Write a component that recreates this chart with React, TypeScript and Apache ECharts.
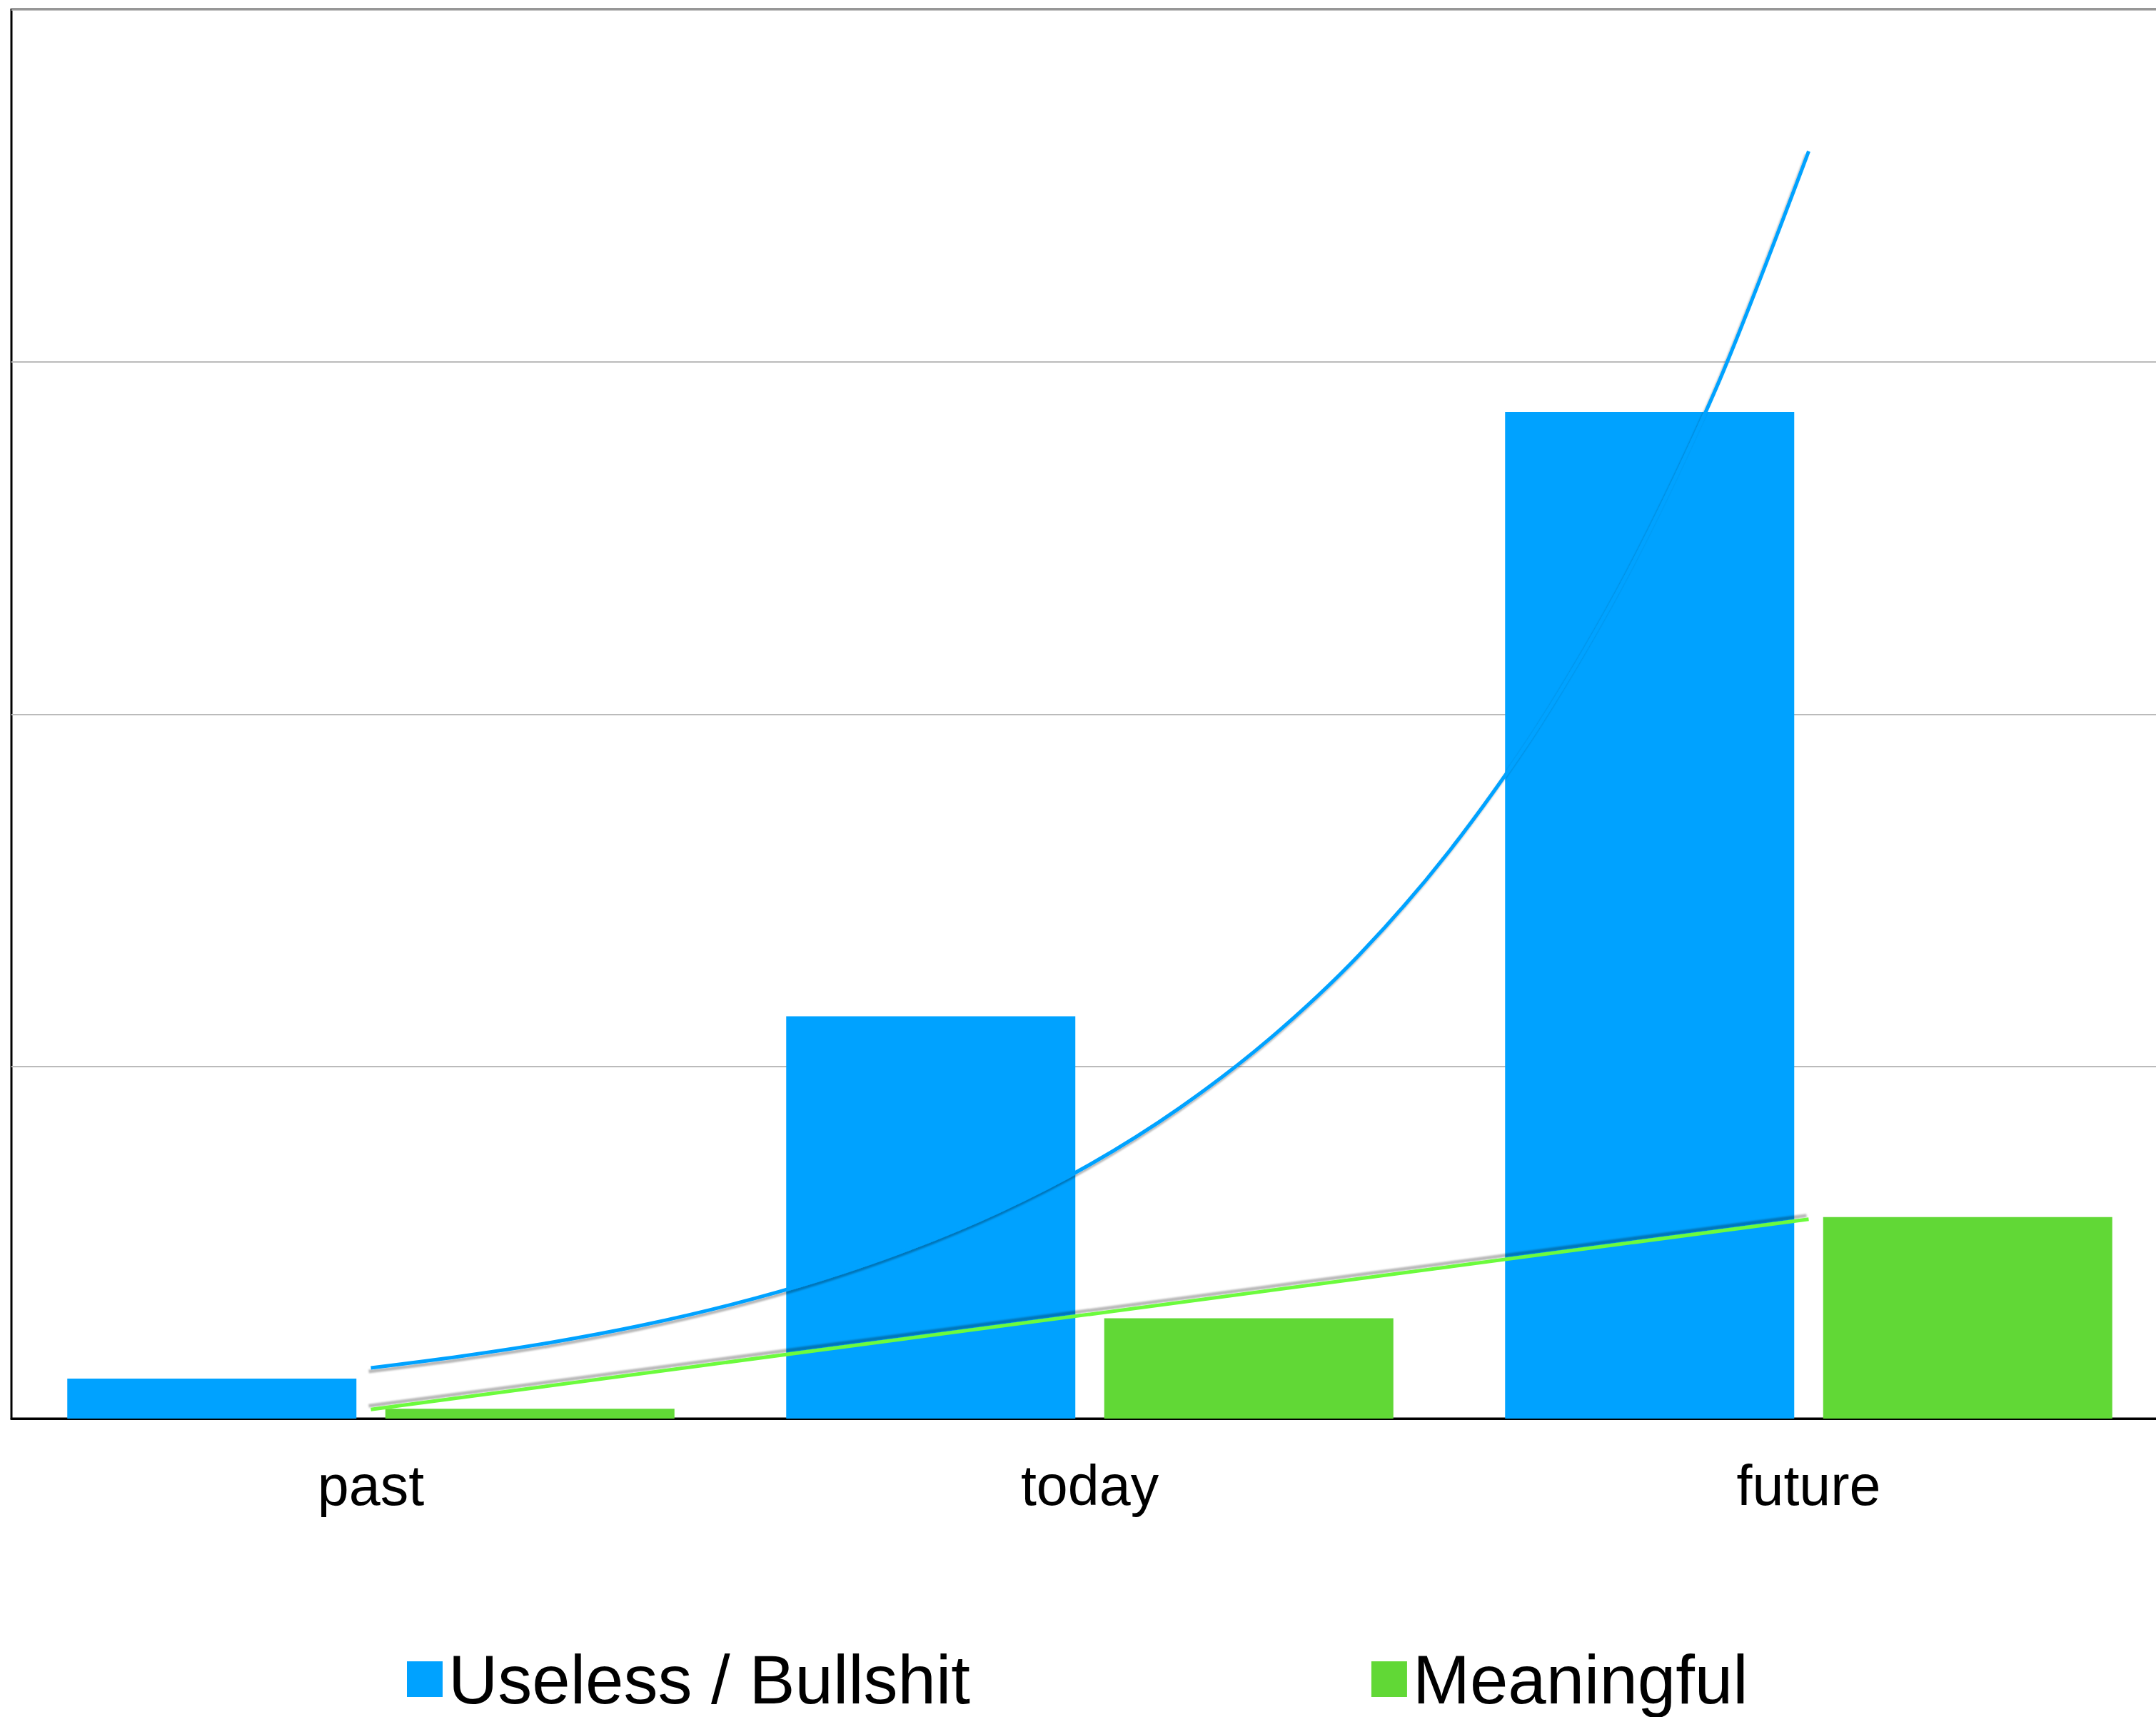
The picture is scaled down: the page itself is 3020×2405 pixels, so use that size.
import React, { useEffect, useRef } from "react";
import * as echarts from "echarts";

const categories = ["past", "today", "future"];
const uselessValues = [0.1135, 1.142, 2.858];
const meaningfulValues = [0.028, 0.285, 0.572];

// trend lines (x in category units, 0 = past, 2 = future)
const blueTrendX = [0, 0.125, 0.25, 0.375, 0.5, 0.625, 0.75, 0.875, 1, 1.125, 1.25, 1.375, 1.5, 1.625, 1.75, 1.875, 2];
const blueTrendY = [0.144, 0.177, 0.216, 0.264, 0.323, 0.395, 0.483, 0.59, 0.721, 0.882, 1.078, 1.317, 1.611, 1.969, 2.407, 2.943, 3.598];
const greenTrendX = [0, 2];
const greenTrendY = [0.026, 0.566];

const BLUE = "#00A2FF";
const GREEN = "#61D836";
const GREEN_LINE = "#6CFB3C";
const FONT = "Liberation Sans";

export default function App() {
  const ref = useRef<HTMLDivElement>(null);
  useEffect(() => {
    if (!ref.current) return;
    const chart = echarts.init(ref.current, null, { renderer: "svg" });
    const pairs = (xs: number[], ys: number[]) => xs.map((x, i) => [x, ys[i]]);
    chart.setOption({
      animation: false,
      backgroundColor: "#ffffff",
      textStyle: { fontFamily: FONT },
      grid: {
        left: 16,
        top: 13.5,
        width: 3021,
        height: 1973.5,
        show: true,
        borderColor: "#000000",
        borderWidth: 3,
        backgroundColor: "transparent",
      },
      legend: {
        data: ["Useless / Bullshit", "Meaningful"],
        left: 570,
        top: 2304,
        padding: 0,
        itemWidth: 50,
        itemHeight: 50,
        itemGap: 562,
        icon: "rect",
        textStyle: { fontSize: 96, color: "#000000", fontFamily: FONT, padding: [0, 0, 0, 3] },
      },
      xAxis: [
        {
          type: "category",
          data: categories,
          axisTick: { show: false },
          axisLine: { lineStyle: { color: "#000000", width: 3 } },
          axisLabel: { fontSize: 79, color: "#000000", margin: 54, fontFamily: FONT },
          splitLine: { show: false },
        },
        {
          type: "value",
          min: -0.5,
          max: 2.5,
          show: false,
          splitLine: { show: false },
        },
      ],
      yAxis: {
        type: "value",
        min: 0,
        max: 4,
        interval: 1,
        axisLabel: { show: false },
        axisLine: { show: false },
        axisTick: { show: false },
        splitLine: { lineStyle: { color: "#BBBBBB", width: 2 } },
      },
      series: [
        {
          name: "Useless / Bullshit",
          type: "bar",
          data: uselessValues,
          barWidth: 405,
          barGap: "10%",
          itemStyle: { color: BLUE },
        },
        {
          name: "Meaningful",
          type: "bar",
          data: meaningfulValues,
          barWidth: 405,
          barGap: "10%",
          itemStyle: { color: GREEN },
        },
        {
          name: "blueTrend",
          type: "line",
          xAxisIndex: 1,
          data: pairs(blueTrendX, blueTrendY),
          smooth: 0.3,
          showSymbol: false,
          symbol: "none",
          lineStyle: {
            color: BLUE,
            width: 5,
            cap: "butt",
            shadowColor: "rgba(0,0,0,0.28)",
            shadowBlur: 2,
            shadowOffsetX: -3,
            shadowOffsetY: 5,
          },
          z: 5,
        },
        {
          name: "greenTrend",
          type: "line",
          xAxisIndex: 1,
          data: pairs(greenTrendX, greenTrendY),
          showSymbol: false,
          symbol: "none",
          lineStyle: {
            color: GREEN_LINE,
            width: 5,
            cap: "butt",
            shadowColor: "rgba(0,0,0,0.28)",
            shadowBlur: 2,
            shadowOffsetX: -3,
            shadowOffsetY: -5,
          },
          z: 5,
        },
      ],
    });
    return () => chart.dispose();
  }, []);
  return (
    <div
      style={{
        position: "absolute",
        left: 0,
        top: 0,
        width: 3020,
        height: 2405,
        overflow: "hidden",
        background: "#ffffff",
      }}
    >
      <div ref={ref} style={{ width: 3040, height: 2405 }} />
    </div>
  );
}
